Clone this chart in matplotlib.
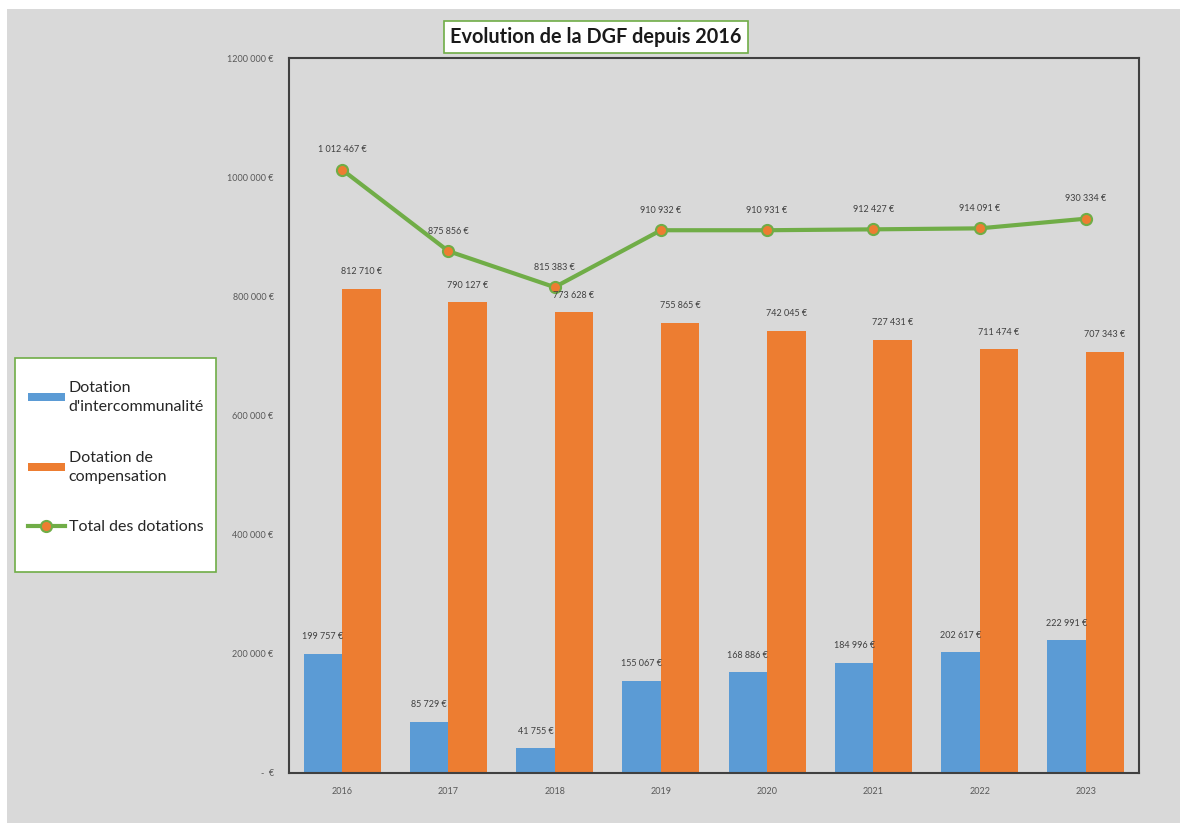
import matplotlib.pyplot as plt
from matplotlib.patches import Rectangle
import numpy as np

plt.rcParams['font.family'] = ['Lato', 'DejaVu Sans']

annees = ['2016', '2017', '2018', '2019', '2020', '2021', '2022', '2023']
dotation_interco = [199757, 85729, 41755, 155067, 168886, 184996, 202617, 222991]
dotation_compens = [812710, 790127, 773628, 755865, 742045, 727431, 711474, 707343]
total_dotations = [1012467, 875856, 815383, 910932, 910931, 912427, 914091, 930334]

y_ticks = [0, 200000, 400000, 600000, 800000, 1000000, 1200000]
y_tick_labels = ['-  €', '200 000 €', '400 000 €', '600 000 €', '800 000 €',
                 '1000 000 €', '1200 000 €']

BLEU = '#5b9bd5'
ORANGE = '#ed7d31'
VERT = '#70ad47'
GRIS = '#d9d9d9'


def euros(v):
    return '{:,}'.format(v).replace(',', ' ') + ' €'


fig = plt.figure(figsize=(11.8, 8.23), dpi=100)
fig.patch.set_facecolor('white')
fig.patches.append(Rectangle((7 / 1180, 0), 1, 1 - 9 / 823, transform=fig.transFigure,
                             facecolor=GRIS, edgecolor='none', zorder=-10))

ax = fig.add_axes([289 / 1180, 1 - 773 / 823, 850 / 1180, 715 / 823])
ax.set_facecolor(GRIS)

x = np.arange(len(annees))
w = 0.362
b1 = ax.bar(x - w / 2, dotation_interco, w, color=BLEU, label="Dotation\nd'intercommunalité", zorder=2)
b2 = ax.bar(x + w / 2, dotation_compens, w, color=ORANGE, label='Dotation de\ncompensation', zorder=2)
l1, = ax.plot(x, total_dotations, color=VERT, lw=3, marker='o', markersize=8,
              markerfacecolor=ORANGE, markeredgecolor=VERT, markeredgewidth=1.5,
              label='Total des dotations', zorder=3)

for i in range(len(annees)):
    ax.annotate(euros(dotation_interco[i]), (x[i] - w / 2, dotation_interco[i]),
                xytext=(0, 9), textcoords='offset points', ha='center', va='bottom',
                fontsize=6.5, color='#404040')
    ax.annotate(euros(dotation_compens[i]), (x[i] + w / 2, dotation_compens[i]),
                xytext=(0, 9), textcoords='offset points', ha='center', va='bottom',
                fontsize=6.5, color='#404040')
    ax.annotate(euros(total_dotations[i]), (x[i], total_dotations[i]),
                xytext=(0, 11), textcoords='offset points', ha='center', va='bottom',
                fontsize=6.5, color='#404040')

ax.set_xlim(-0.5, len(annees) - 0.5)
ax.set_ylim(0, 1200000)
ax.set_xticks(x)
ax.set_xticklabels(annees, fontsize=6.5, color='#595959')
ax.set_yticks(y_ticks)
ax.set_yticklabels(y_tick_labels, fontsize=6.5, color='#595959')
ax.tick_params(length=0, pad=10)
ax.tick_params(axis='y', pad=11)
for s in ax.spines.values():
    s.set_color('#404040')
    s.set_linewidth(1.5)

# legend box on the left
fig.patches.append(Rectangle((15 / 1180, 1 - 572 / 823), 201 / 1180, 214 / 823,
                             transform=fig.transFigure, facecolor='white',
                             edgecolor=VERT, lw=1.2, zorder=1))
leg = fig.legend(handles=[b1, b2, l1], loc='upper left',
                 bbox_to_anchor=(20 / 1180, 1 - 373 / 823), frameon=False,
                 fontsize=11.5, labelspacing=2.3, handlelength=2.3, handletextpad=0.25,
                 borderpad=0, handleheight=0.4)
leg.set_zorder(5)
for t in leg.get_texts():
    t.set_color('#262626')
    t.set_linespacing(1.45)

fig.text(596 / 1180, 1 - 37 / 823, 'Evolution de la DGF depuis 2016', ha='center', va='center',
         fontsize=14.3, fontweight='bold', color='#1a1a1a',
         bbox=dict(boxstyle='square,pad=0.3', facecolor='white', edgecolor=VERT, lw=1.2))

fig.savefig('out.png', dpi=100)
